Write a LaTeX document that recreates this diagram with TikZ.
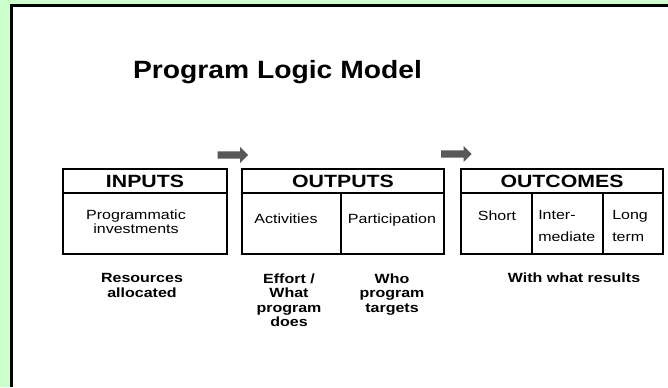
\documentclass[tikz,border=0pt]{standalone}
\usepackage{fontspec}
\setmainfont[FakeStretch=1.2]{Liberation Sans}
\newfontfamily\titlefont[FakeStretch=1.13]{Liberation Sans}
\usetikzlibrary{shapes.arrows}
\definecolor{slidegreen}{RGB}{204,255,204}
\definecolor{arrowgray}{RGB}{88,88,88}

\begin{document}
\begin{tikzpicture}[x=0.75pt,y=-0.75pt,
  head/.style={draw,line width=1.3pt,inner sep=0pt,minimum height=18pt,
               font=\fontsize{13.3}{15}\selectfont\bfseries},
  cell/.style={draw,line width=1.3pt,inner sep=0pt,minimum height=45.75pt},
  body/.style={font=\fontsize{10}{10.5}\selectfont,inner sep=0pt,align=center,anchor=north},
  note/.style={font=\fontsize{10}{10.9}\selectfont\bfseries,inner sep=0pt,align=center,anchor=north},
  flow/.style={single arrow,fill=arrowgray,draw=none,inner sep=0pt,inner ysep=2.6pt,
               single arrow head extend=3.3pt,minimum height=23pt}]
  % --- slide background and frame -----------------------------------------
  \useasboundingbox (0,0) rectangle (668,387);
  \fill[slidegreen] (0,0) rectangle (668,387);
  \fill[white] (11.5,5.5) rectangle (668,387);
  \draw[line width=2.25pt] (11.5,387) -- (11.5,5.5) -- (668,5.5);

  \node[anchor=base,font=\titlefont\fontsize{18.75}{22}\selectfont\bfseries] (title) at (277.5,78) {Program Logic Model};

  % --- the three stages: header row + body cells ---------------------------
  \node[head,minimum width=123pt] (inputs) at (145,181) {INPUTS};
  \node[cell,minimum width=123pt] (inbody) at (145,223.5) {};

  \node[head,minimum width=151.5pt] (outputs) at (343,181) {OUTPUTS};
  \node[cell,minimum width=74.25pt] (act) at (291.5,223.5) {};
  \node[cell,minimum width=77.25pt] (part) at (392.5,223.5) {};

  \node[head,minimum width=151.5pt] (outcomes) at (562,181) {OUTCOMES};
  \node[cell,minimum width=53.25pt] (short) at (496.5,223.5) {};
  \node[cell,minimum width=53.25pt] (inter) at (567.5,223.5) {};
  \node[cell,minimum width=45pt] (long) at (633,223.5) {};

  % --- block arrows between stages -----------------------------------------
  \node[flow] (flowa) at (231,155) {};
  \node[flow] (flowb) at (454.5,154) {};

  % --- cell texts (north = first baseline minus cap height) ----------------
  \node[body] (intext) at (136,209.4) {Programmatic\\investments};
  \node[body] (acttext) at (286,213.4) {Activities};
  \node[body] (parttext) at (392,213.4) {Participation};
  \node[body] (shorttext) at (497,210.4) {Short};
  \node[body,align=left,anchor=north west] (intertext) at (538,210.4) {Inter-\\[6pt]mediate};
  \node[body,align=left,anchor=north west] (longtext) at (612,210.4) {Long\\[6pt]term};

  % --- what each column stands for -----------------------------------------
  \node[note] (resnote) at (142,273.3) {Resources\\allocated};
  \node[note] (effnote) at (289,273.3) {Effort /\\What\\program\\does};
  \node[note] (whonote) at (392,273.3) {Who\\program\\targets};
  \node[note,anchor=base] (resultnote) at (574,282) {With what results};
\end{tikzpicture}
\end{document}
